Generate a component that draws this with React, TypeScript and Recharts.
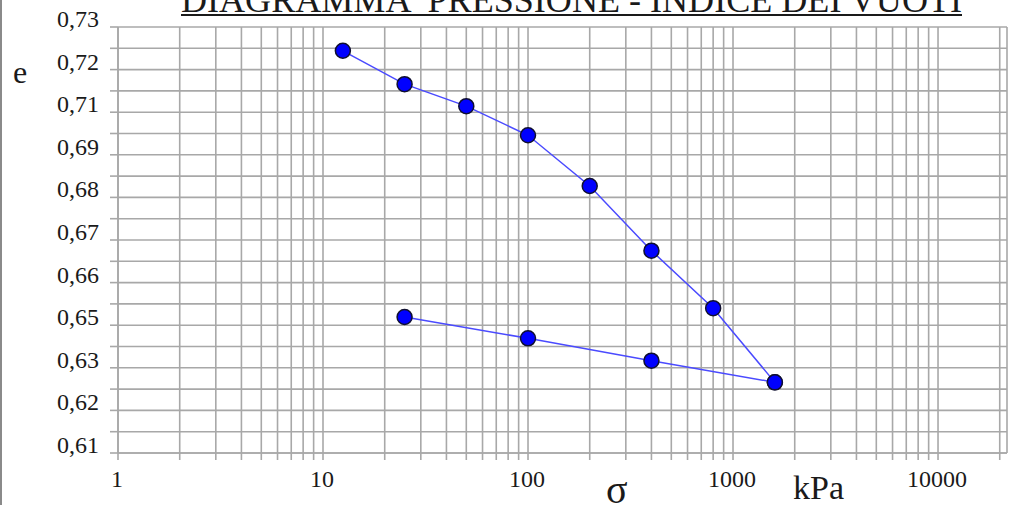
import React from 'react';
import { LineChart, Line, XAxis, YAxis, CartesianGrid } from 'recharts';

// loading branch (kPa / void ratio)
const sigmaLoading = [12.5, 25, 50, 100, 200, 400, 800, 1600];
const eLoading = [0.7233, 0.7139, 0.7077, 0.6995, 0.6852, 0.667, 0.6508, 0.6299];

// unloading branch
const sigmaUnloading = [1600, 400, 100, 25];
const eUnloading = [0.6299, 0.636, 0.6423, 0.6483];

const xTicks = [
  1, 2, 3, 4, 5, 6, 7, 8, 9,
  10, 20, 30, 40, 50, 60, 70, 80, 90,
  100, 200, 300, 400, 500, 600, 700, 800, 900,
  1000, 2000, 3000, 4000, 5000, 6000, 7000, 8000, 9000,
  10000, 20000,
];
const xLabelTicks = [1, 10, 100, 1000, 10000];

const yTicks = [
  0.61, 0.616, 0.622, 0.628, 0.634, 0.64, 0.646, 0.652, 0.658, 0.664, 0.67,
  0.676, 0.682, 0.688, 0.694, 0.7, 0.706, 0.712, 0.718, 0.724, 0.73,
];
const yLabelTicks = [0.61, 0.622, 0.634, 0.646, 0.658, 0.67, 0.682, 0.694, 0.706, 0.718, 0.73];
const yTickLabels = ['0,61', '0,62', '0,63', '0,65', '0,66', '0,67', '0,68', '0,69', '0,71', '0,72', '0,73'];

const title = 'DIAGRAMMA  PRESSIONE - INDICE DEI VUOTI';

const loading = sigmaLoading.map((s, i) => ({ sigma: s, e: eLoading[i] }));
const unloading = sigmaUnloading.map((s, i) => ({ sigma: s, e: eUnloading[i] }));

const FONT = '"Liberation Serif", "Times New Roman", serif';
const GRID = '#a8a8a8';
const TEXT = '#1a1a1a';
const serif = { fontFamily: FONT };

const XTick = (props: any) => {
  const { x, y, payload } = props;
  if (!xLabelTicks.includes(payload.value)) return <g />;
  return (
    <text x={x - 1} y={y + 27} textAnchor="middle" style={serif} fontSize={24} fill={TEXT}>
      {payload.value}
    </text>
  );
};

const YTick = (props: any) => {
  const { x, y, payload } = props;
  const idx = yLabelTicks.findIndex((v) => Math.abs(v - payload.value) < 1e-6);
  if (idx < 0) return <g />;
  return (
    <text x={x} y={y} textAnchor="end" style={serif} fontSize={24} fill={TEXT}>
      {yTickLabels[idx]}
    </text>
  );
};

const dotStyle = { r: 7.5, fill: '#0000ff', stroke: '#101030', strokeWidth: 1.5 };

export default function App() {
  return (
    <div style={{ position: 'absolute', left: 0, top: 0, width: 1015, height: 505, background: '#fff', overflow: 'hidden', fontFamily: FONT }}>
      <div style={{ position: 'absolute', left: 0, top: 0, width: 2, height: 505, background: '#8a8a8a' }} />
      <LineChart width={1015} height={505} margin={{ top: 27, right: 8, bottom: 0, left: 0 }}>
        <CartesianGrid stroke={GRID} strokeWidth={1.6} />
        <XAxis
          dataKey="sigma"
          type="number"
          scale="log"
          domain={[1, 21700]}
          ticks={xTicks}
          interval={0}
          height={52}
          tickSize={7}
          tickMargin={0}
          tick={<XTick />}
          tickLine={{ stroke: GRID, strokeWidth: 1.6 }}
          axisLine={{ stroke: GRID, strokeWidth: 1.6 }}
          allowDataOverflow
        />
        <YAxis
          dataKey="e"
          type="number"
          domain={[0.61, 0.73]}
          ticks={yTicks}
          interval={0}
          width={118}
          tickSize={8}
          tickMargin={11}
          tick={<YTick />}
          tickLine={{ stroke: GRID, strokeWidth: 1.6 }}
          axisLine={{ stroke: GRID, strokeWidth: 1.6 }}
          allowDataOverflow
        />
        <Line
          data={loading}
          dataKey="e"
          type="linear"
          stroke="#4a4aff"
          strokeWidth={1.5}
          dot={dotStyle}
          activeDot={false}
          isAnimationActive={false}
        />
        <Line
          data={unloading}
          dataKey="e"
          type="linear"
          stroke="#4a4aff"
          strokeWidth={1.5}
          dot={dotStyle}
          activeDot={false}
          isAnimationActive={false}
        />
      </LineChart>
      <svg
        width={1015}
        height={505}
        style={{ position: 'absolute', left: 0, top: 0, pointerEvents: 'none' }}
      >
        <text
          x={181}
          y={12}
          style={{ ...serif, whiteSpace: 'pre' }}
          fontSize={35}
          fill={TEXT}
          textLength={781}
          lengthAdjust="spacingAndGlyphs"
        >
          {title}
        </text>
        <rect x={181} y={14} width={781} height={2} fill={TEXT} />
        <text x={13} y={83} style={serif} fontSize={32} fill={TEXT}>e</text>
        <text x={606} y={503} style={serif} fontSize={40} fill={TEXT}>σ</text>
        <text x={793} y={499} style={serif} fontSize={34} fill={TEXT}>kPa</text>
      </svg>
    </div>
  );
}
